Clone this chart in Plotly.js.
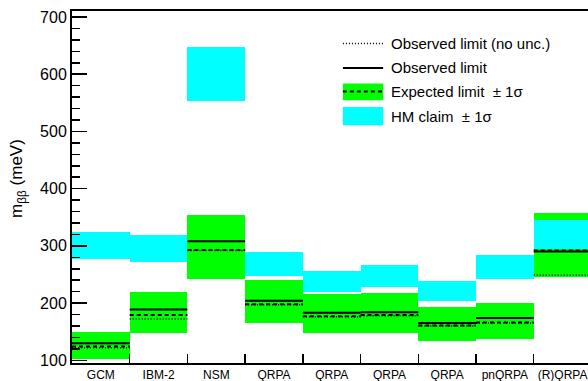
<!DOCTYPE html>
<html>
<head>
<meta charset="utf-8">
<script src="https://cdn.plot.ly/plotly-3.0.1.min.js"></script>
<style>html,body{margin:0;padding:0;background:#fff}#chart{width:588px;height:381px}</style>
</head>
<body>
<div id="chart"></div>
<script>
// ---- data (meV) ----
const categories = ['GCM', 'IBM-2', 'NSM', 'QRPA', 'QRPA', 'QRPA', 'QRPA', 'pnQRPA', '(R)QRPA'];
const expLow    = [102, 147, 242, 165, 147, 147, 134, 137, 245];
const expHigh   = [149, 219, 354, 240, 216, 217, 194, 201, 357];
const expMedian = [124, 179, 293, 198, 177, 179, 161, 166, 292];
const observed  = [130, 189, 308, 204, 183, 184, 165, 174, 290];
const observedNoUnc = [122, 172, 292, 197, 176, 178, 160, 165, 249];
const hmLow     = [277, 272, 553, 247, 220, 228, 204, 242, 294];
const hmHigh    = [324, 319, 647, 289, 256, 266, 238, 284, 345];

const FONT = 'Liberation Sans, Arial, Helvetica, sans-serif';
const centers = categories.map((c, i) => i + 0.5);

function segs(vals) {
  const x = [], y = [];
  vals.forEach((v, i) => { x.push(i, i + 1, null); y.push(v, v, null); });
  return {x, y};
}

const traces = [
  {type: 'bar', x: centers, base: expLow, y: expHigh.map((h, i) => h - expLow[i]), width: 1,
   marker: {color: '#00ff00', line: {width: 0}}, hoverinfo: 'none', showlegend: false},
  {type: 'bar', x: centers, base: hmLow, y: hmHigh.map((h, i) => h - hmLow[i]), width: 1,
   marker: {color: '#00ffff', line: {width: 0}}, hoverinfo: 'none', showlegend: false},
];
const sNo = segs(observedNoUnc), sObs = segs(observed), sExp = segs(expMedian);
traces.push({type: 'scatter', mode: 'lines', x: sNo.x, y: sNo.y, line: {color: '#000', width: 1.5, dash: '1px,2px'}, hoverinfo: 'none', showlegend: false});
traces.push({type: 'scatter', mode: 'lines', x: sExp.x, y: sExp.y, line: {color: '#000', width: 2, dash: '4px,3px'}, hoverinfo: 'none', showlegend: false});
traces.push({type: 'scatter', mode: 'lines', x: sObs.x, y: sObs.y, line: {color: '#000', width: 2}, hoverinfo: 'none', showlegend: false});
traces.push({type: 'scatter', mode: 'lines', x: [null], y: [null], xaxis: 'x2', hoverinfo: 'none', showlegend: false});

const boundaries = categories.slice(1).map((c, i) => i + 1);
const XR = [0, 8.94];

// legend geometry (paper coords)
const lx0 = 0.525, lx1 = 0.603, tx = 0.618;
const rows = [0.9074, 0.8381, 0.7710, 0.7009];
const legendTexts = ['Observed limit (no unc.)', 'Observed limit', 'Expected limit \u00a0\u00b1 1\u03c3', 'HM claim \u00a0\u00b1 1\u03c3'];

const shapes = [
  {type: 'line', xref: 'paper', yref: 'paper', x0: lx0, x1: lx1, y0: rows[0], y1: rows[0], line: {color: '#000', width: 1.5, dash: '1px,2px'}},
  {type: 'line', xref: 'paper', yref: 'paper', x0: lx0, x1: lx1, y0: rows[1], y1: rows[1], line: {color: '#000', width: 2}},
  {type: 'rect', xref: 'paper', yref: 'paper', x0: lx0, x1: lx1, y0: 0.7463, y1: 0.7938, fillcolor: '#00ff00', line: {width: 0}},
  {type: 'line', xref: 'paper', yref: 'paper', x0: lx0, x1: lx1, y0: rows[2], y1: rows[2], line: {color: '#000', width: 2, dash: '4px,3px'}},
  {type: 'rect', xref: 'paper', yref: 'paper', x0: lx0, x1: lx1, y0: 0.6753, y1: 0.7273, fillcolor: '#00ffff', line: {width: 0}},
];
const annotations = legendTexts.map((t, i) => ({
  xref: 'paper', yref: 'paper', x: tx, y: rows[i], xshift: -2, xanchor: 'left', yanchor: 'middle',
  text: t, showarrow: false, font: {family: FONT, size: 15, color: '#000'}
}));
annotations.push({
  xref: 'paper', yref: 'paper', x: 0, y: 0.5, xshift: -54, yshift: 8, xanchor: 'center', yanchor: 'middle',
  textangle: -90, text: 'm<sub>\u03b2\u03b2</sub> (meV)', showarrow: false,
  font: {family: FONT, size: 17, color: '#000'}
});

const layout = {
  width: 588, height: 381,
  margin: {l: 72, r: 0, t: 11, b: 18, pad: 0},
  paper_bgcolor: '#fff', plot_bgcolor: '#fff',
  barmode: 'overlay', bargap: 0,
  showlegend: false,
  font: {family: FONT, color: '#000'},
  xaxis: {
    range: XR, showgrid: false, zeroline: false, showline: true, mirror: true,
    linecolor: '#000', linewidth: 2, ticks: '', tickvals: centers, ticktext: categories,
    tickfont: {family: FONT, size: 12, color: '#000'}, fixedrange: true
  },
  xaxis2: {
    overlaying: 'x', anchor: 'y', side: 'bottom', range: XR, showgrid: false, zeroline: false,
    showline: false, ticks: 'inside', tickvals: boundaries, ticklen: 9, tickwidth: 1.5,
    tickcolor: '#000', showticklabels: false
  },
  yaxis: {
    range: [95.3, 710.5], showgrid: false, zeroline: false, showline: true,
    linecolor: '#000', linewidth: 2, ticks: 'inside', tick0: 0, dtick: 100,
    ticklen: 15, tickwidth: 1.5, tickcolor: '#000',
    minor: {dtick: 20, tick0: 0, ticks: 'inside', ticklen: 8, tickwidth: 1.5, tickcolor: '#000'},
    tickfont: {family: FONT, size: 16, color: '#000'}
  },
  shapes: shapes, annotations: annotations
};
Plotly.newPlot('chart', traces, layout, {staticPlot: true, displayModeBar: false});
</script>
</body>
</html>
